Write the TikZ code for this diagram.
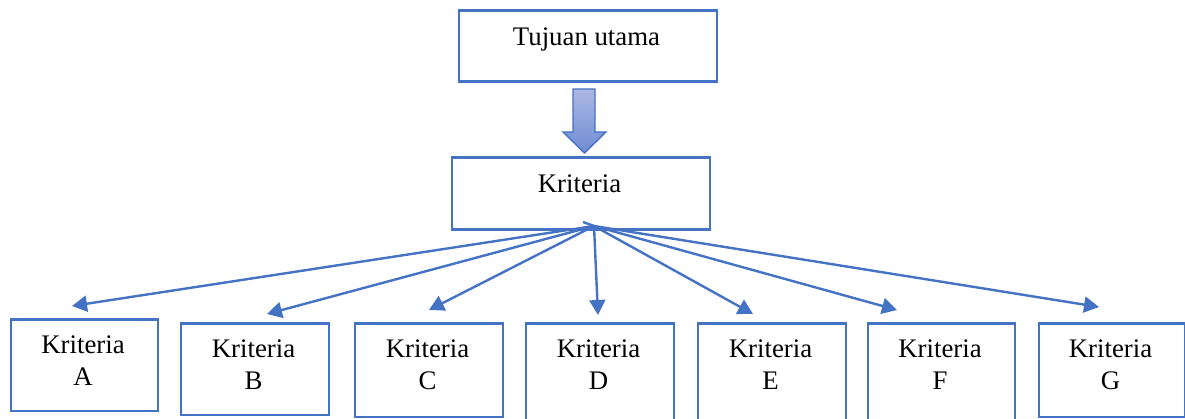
\documentclass[tikz,border=0pt]{standalone}
\usepackage{fontspec}
\setmainfont{Liberation Serif}
\usetikzlibrary{arrows.meta}
\definecolor{bl}{HTML}{4472C4}
\definecolor{gtop}{RGB}{172,184,228}
\definecolor{gbot}{RGB}{112,140,210}
\begin{document}
\begin{tikzpicture}[x=1pt,y=-1pt,
  boxst/.style={draw=bl,line width=2.8pt,fill=white,inner sep=0pt,anchor=north west},
  txt/.style={font=\fontsize{26.8}{30}\selectfont,anchor=base,inner sep=0pt},
  conn/.style={draw=bl,line width=2.4pt,-{Triangle[length=15pt,width=16pt]}}]
\useasboundingbox (0,0) rectangle (1185,419);
% top boxes
\node[boxst,minimum width=258pt,minimum height=71pt] (top) at (457.5,9.5) {};
\node[txt] (ttop) at (586.5,46) {Tujuan utama};
\node[boxst,minimum width=258pt,minimum height=72pt] (mid) at (450.5,156.5) {};
\node[txt] (tmid) at (579.5,193) {Kriteria};
% block arrow
\shade[top color=gtop,bottom color=gbot,draw=bl,line width=1.4pt]
  (573,89) -- (595,89) -- (595,132) -- (606,132) -- (584.5,153) -- (563,132) -- (573,132) -- cycle;
% bottom boxes
\node[boxst,minimum width=147pt,minimum height=91pt] (bA) at (9.5,318.5) {};
\node[boxst,minimum width=148pt,minimum height=91pt] (bB) at (179.5,322.5) {};
\node[boxst,minimum width=148pt,minimum height=93pt] (bC) at (353.5,322.5) {};
\node[boxst,minimum width=148pt,minimum height=110pt] (bD) at (524.5,322.5) {};
\node[boxst,minimum width=148pt,minimum height=110pt] (bE) at (696.5,322.5) {};
\node[boxst,minimum width=147pt,minimum height=110pt] (bF) at (866.5,322.5) {};
\node[boxst,minimum width=146pt,minimum height=93pt] (bG) at (1037.5,322.5) {};
% texts
\node[txt] (tA) at (83,353) {Kriteria};
\node[txt] (tA2) at (83,385) {A};
\node[txt] (tB) at (253.5,357) {Kriteria};
\node[txt] (tB2) at (253.5,389) {B};
\node[txt] (tC) at (427.5,357) {Kriteria};
\node[txt] (tC2) at (427.5,389) {C};
\node[txt] (tD) at (598.5,357) {Kriteria};
\node[txt] (tD2) at (598.5,389) {D};
\node[txt] (tE) at (770.5,357) {Kriteria};
\node[txt] (tE2) at (770.5,389) {E};
\node[txt] (tF) at (940,357) {Kriteria};
\node[txt] (tF2) at (940,389) {F};
\node[txt] (tG) at (1110.5,357) {Kriteria};
\node[txt] (tG2) at (1110.5,389) {G};
% connectors
\coordinate (o) at (594,226);
\coordinate (pA) at (72,306);
\coordinate (pB) at (267,314);
\coordinate (pC) at (429,310);
\coordinate (pD) at (598,315);
\coordinate (pE) at (753,314);
\coordinate (pF) at (897,310);
\coordinate (pG) at (1099,307);
\draw[draw=bl,line width=2.4pt] (583,222) -- (o);
\foreach \p in {pA,pB,pC,pD,pE,pF,pG} \draw[conn] (o) -- (\p);
\end{tikzpicture}
\end{document}
